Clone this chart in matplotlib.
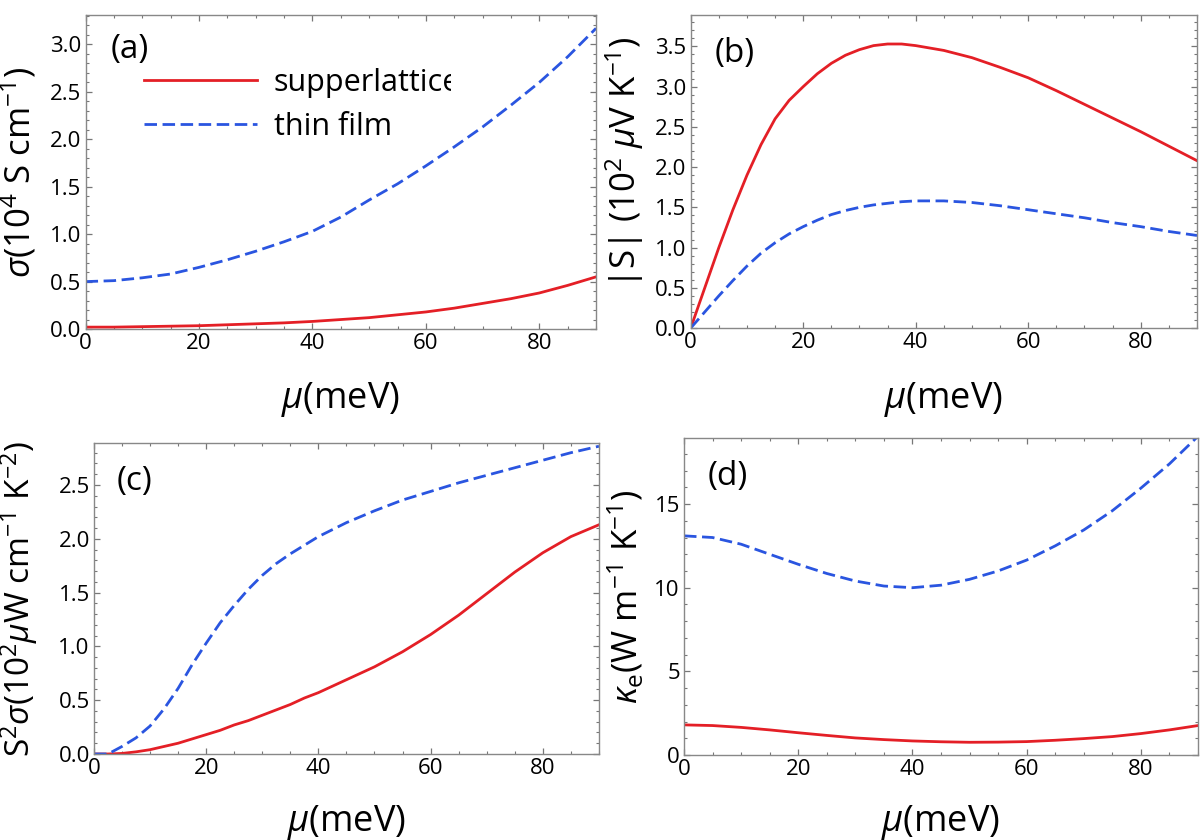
import numpy as np
import matplotlib
matplotlib.use('Agg')
import matplotlib.pyplot as plt
from matplotlib.ticker import MultipleLocator
from matplotlib.lines import Line2D
from matplotlib.transforms import Bbox

plt.rcParams['font.family'] = ['Open Sans', 'DejaVu Sans']
plt.rcParams['mathtext.fontset'] = 'custom'
plt.rcParams['mathtext.rm'] = 'Open Sans'
plt.rcParams['mathtext.it'] = 'Open Sans:italic'
plt.rcParams['mathtext.bf'] = 'Open Sans:bold'

# chemical potential (meV)
mu = [0, 5, 10, 15, 20, 25, 30, 35, 40, 45, 50, 55, 60, 65, 70, 75, 80, 85, 90]
mu_fine = [0, 2.5, 5, 7.5, 10, 12.5, 15, 17.5, 20, 22.5, 25, 27.5, 30, 32.5, 35,
           37.5, 40, 45, 50, 55, 60, 65, 70, 75, 80, 85, 90]

# (a) conductivity, 10^4 S/cm
sigma_sl = [0.02, 0.02, 0.025, 0.03, 0.035, 0.045, 0.055, 0.065, 0.08, 0.10,
            0.12, 0.15, 0.18, 0.22, 0.27, 0.32, 0.38, 0.46, 0.55]
sigma_tf = [0.50, 0.51, 0.54, 0.58, 0.65, 0.73, 0.82, 0.92, 1.03, 1.18,
            1.36, 1.53, 1.72, 1.92, 2.13, 2.36, 2.60, 2.87, 3.17]

# (b) |S|, 10^2 uV/K
seeb_sl = [0.0, 0.5, 1.0, 1.47, 1.9, 2.28, 2.6, 2.83, 3.0, 3.16, 3.29, 3.39, 3.46,
           3.51, 3.53, 3.53, 3.51, 3.45, 3.36, 3.24, 3.11, 2.95, 2.78, 2.61, 2.44,
           2.26, 2.08]
seeb_tf = [0.0, 0.2, 0.4, 0.59, 0.77, 0.93, 1.06, 1.17, 1.26, 1.34, 1.41, 1.46,
           1.50, 1.53, 1.55, 1.57, 1.58, 1.58, 1.56, 1.52, 1.47, 1.42, 1.37, 1.31,
           1.26, 1.20, 1.15]

# (c) power factor, 10^2 uW cm^-1 K^-2
pf_sl = [0.0, 0.0, 0.005, 0.02, 0.04, 0.07, 0.10, 0.14, 0.18, 0.22, 0.27, 0.31,
         0.36, 0.41, 0.46, 0.52, 0.57, 0.69, 0.81, 0.95, 1.11, 1.29, 1.49, 1.69,
         1.87, 2.02, 2.13]
pf_tf = [0.0, 0.0, 0.07, 0.15, 0.26, 0.42, 0.61, 0.83, 1.03, 1.22, 1.38, 1.53,
         1.66, 1.77, 1.86, 1.94, 2.02, 2.15, 2.26, 2.36, 2.44, 2.52, 2.59, 2.66,
         2.73, 2.80, 2.86]

# (d) electronic thermal conductivity, W m^-1 K^-1
kap_sl = [1.8, 1.76, 1.65, 1.5, 1.33, 1.17, 1.02, 0.92, 0.84, 0.79,
          0.76, 0.77, 0.80, 0.88, 0.98, 1.1, 1.28, 1.5, 1.76]
kap_tf = [13.1, 13.0, 12.6, 12.0, 11.4, 10.85, 10.4, 10.1, 10.0, 10.15,
          10.5, 11.0, 11.65, 12.5, 13.45, 14.6, 15.95, 17.4, 19.05]

red = '#e41f26'
blue = '#2a55e0'
dash = (4.5, 2)

fig = plt.figure(figsize=(12, 8.4), dpi=100)

panels = [
    # rect, x, sl, tf, ytop, ymajor, yminor, ylabel, label size, label coords, tag, tag pos, xlabel y
    ([0.0713, 0.6083, 0.4254, 0.3738], mu, sigma_sl, sigma_tf, 3.31, 0.5, 0.1,
     r'$\sigma$(10$^4$ S cm$^{-1}$)', 25, (-0.093, 0.5), '(a)', (0.05, 0.943), -0.162),
    ([0.5756, 0.6095, 0.4219, 0.3726], mu_fine, seeb_sl, seeb_tf, 3.89, 0.5, 0.1,
     r'|S| (10$^2$ $\mu$V K$^{-1}$)', 25, (-0.088, 0.53), '(b)', (0.048, 0.93), -0.166),
    ([0.0783, 0.1024, 0.4208, 0.3702], mu_fine, pf_sl, pf_tf, 2.89, 0.5, 0.1,
     r'S$^2$$\sigma$(10$^2$$\mu$W cm$^{-1}$ K$^{-2}$)', 24, (-0.107, 0.5), '(c)', (0.045, 0.93), -0.158),
    ([0.570, 0.1012, 0.4283, 0.3774], mu, kap_sl, kap_tf, 18.95, 5, 1,
     r'$\kappa_{\rm e}$(W m$^{-1}$ K$^{-1}$)', 25, (-0.074, 0.5), '(d)', (0.045, 0.93), -0.151),
]

for i, (rect, x, sl, tf, ytop, ymaj, ymin, ylab, yls, lc, tag, tp, xly) in enumerate(panels):
    ax = fig.add_axes(rect)
    ax.plot(x, sl, color=red, lw=2)
    ax.plot(x, tf, color=blue, lw=2, dashes=dash)
    ax.set_xlim(0, 90)
    ax.set_ylim(0, ytop)
    ax.xaxis.set_major_locator(MultipleLocator(20))
    ax.xaxis.set_minor_locator(MultipleLocator(5))
    ax.yaxis.set_major_locator(MultipleLocator(ymaj))
    ax.yaxis.set_minor_locator(MultipleLocator(ymin))
    if ymaj == 5:
        ax.yaxis.set_major_formatter(plt.FuncFormatter(lambda v, p: '%d' % v))
    else:
        ax.yaxis.set_major_formatter(plt.FuncFormatter(lambda v, p: '%.1f' % v))
    ax.tick_params(which='both', direction='in', top=True, right=True,
                   labelsize=16, color='#777777', pad=3)
    ax.tick_params(which='major', length=4.5, width=0.9)
    ax.tick_params(which='minor', length=2.5, width=0.8)
    for s in ax.spines.values():
        s.set_color('#888888')
        s.set_linewidth(1.0)
    ax.set_ylabel(ylab, fontsize=yls)
    ax.yaxis.set_label_coords(*lc)
    ax.set_xlabel(r'$\mu$(meV)', fontsize=26, va='top')
    ax.xaxis.set_label_coords(0.5, xly)
    ax.text(tp[0], tp[1], tag, transform=ax.transAxes, fontsize=24,
            ha='left', va='top')

    if i == 0:
        handles = [Line2D([], [], color=red, lw=2),
                   Line2D([], [], color=blue, lw=2, dashes=dash)]
        leg = ax.legend(handles, ['supperlattice', 'thin film'], frameon=False,
                        fontsize=22, loc='upper left', bbox_to_anchor=(0.09, 0.87),
                        handlelength=3.7, handletextpad=0.55, labelspacing=0.45,
                        borderaxespad=0)
        leg.get_texts()[0].set_clip_on(True)
        leg.get_texts()[0].set_clip_box(Bbox.from_extents(0, 0, 451, 840))

fig.savefig('out.png', dpi=100)
